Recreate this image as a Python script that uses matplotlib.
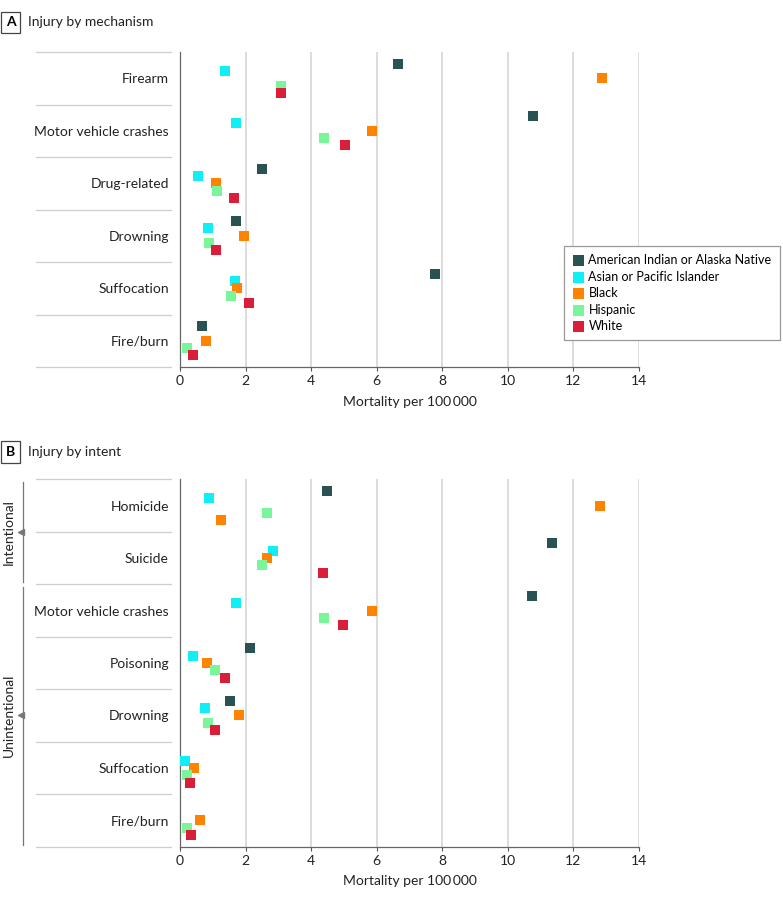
import numpy as np
import matplotlib
matplotlib.use("Agg")
import matplotlib.pyplot as plt
from matplotlib.transforms import blended_transform_factory

plt.rcParams['font.family'] = ['Lato', 'DejaVu Sans']

races = ["American Indian or Alaska Native", "Asian or Pacific Islander", "Black", "Hispanic", "White"]
race_colors = ["#285352", "#12EEF5", "#FF8200", "#7AF599", "#DA1E3A"]

# panel A: injury by mechanism
mech_cats = ["Firearm", "Motor vehicle crashes", "Drug-related", "Drowning", "Suffocation", "Fire/burn"]
mech_aian = [6.65, 10.77, 2.49, 1.70, 7.78, 0.66]
mech_api = [1.37, 1.70, 0.56, 0.86, 1.68, np.nan]
mech_black = [12.88, 5.87, 1.10, 1.94, 1.74, 0.78]
mech_hisp = [3.07, 4.40, 1.12, 0.89, 1.56, 0.22]
mech_white = [3.09, 5.02, 1.65, 1.11, 2.09, 0.39]

# panel B: injury by intent
intent_cats = ["Homicide", "Suicide", "Motor vehicle crashes", "Poisoning", "Drowning", "Suffocation", "Fire/burn"]
intent_aian = [4.49, 11.36, 10.73, 2.15, 1.52, np.nan, np.nan]
intent_api = [0.87, 2.85, 1.70, 0.40, 0.77, 0.16, np.nan]
intent_black = [12.80, 2.65, 5.86, 0.83, 1.81, 0.44, 0.62]
intent_hisp = [2.64, 2.50, 4.38, 1.06, 0.86, 0.22, 0.20]
intent_white = [1.25, 4.37, 4.98, 1.38, 1.06, 0.30, 0.34]
intent_groups = [("Intentional", 0, 1), ("Unintentional", 2, 6)]

# the source figure shows the White homicide marker in orange
recolor = {("Homicide", "White"): "Black"}

xticks = [0, 2, 4, 6, 8, 10, 12, 14]
W, H = 783, 902
FS = 10

fig = plt.figure(figsize=(W / 100, H / 100), dpi=100)


def panel(rect, cats, series, letter, title, title_y):
    ax = fig.add_axes(rect)
    n = len(cats)
    for i, (name, vals) in enumerate(zip(races, series)):
        ys = np.arange(n) + (i - 2) * 0.14
        cols = []
        for c in cats:
            r = recolor.get((c, name), name)
            cols.append(race_colors[races.index(r)])
        ax.scatter(vals, ys, marker='s', s=52, c=cols, edgecolors='none', zorder=3, label=name)
    ax.set_xlim(0, 14)
    ax.set_ylim(n - 0.5, -0.5)
    ax.set_xticks(xticks)
    ax.set_yticks(range(n))
    ax.set_yticklabels(cats, fontsize=FS, color='#222222')
    ax.tick_params(axis='y', length=0, pad=8)
    ax.tick_params(axis='x', length=3, width=0.8, color='#555555', labelsize=FS, pad=3, labelcolor='#222222')
    for s in ['top', 'right']:
        ax.spines[s].set_visible(False)
    for s in ['left', 'bottom']:
        ax.spines[s].set_color('#666666')
        ax.spines[s].set_linewidth(0.9)
    for v in xticks[1:]:
        ax.axvline(v, color='#d6d6d6', lw=1.2, zorder=1)
    ax.set_xlabel("Mortality per 100\u2009000", fontsize=FS, color='#222222', labelpad=6)
    # separators left of the axis
    tr = blended_transform_factory(fig.transFigure, ax.transData)
    for k in range(n + 1):
        ax.plot([36 / W, 171 / W], [k - 0.5, k - 0.5], color='#cfcfcf', lw=0.9,
                transform=tr, clip_on=False)
    fig.text(10.5 / W, 1 - title_y / H, letter, fontsize=10, fontweight='bold', ha='center', va='center',
             bbox=dict(boxstyle='square,pad=0.35', fc='white', ec='#444444', lw=0.9))
    fig.text(28 / W, 1 - title_y / H, title, fontsize=FS, ha='left', va='center', color='#222222')
    return ax


axA = panel([180 / W, 1 - 367 / H, 459 / W, 315 / H], mech_cats,
            [mech_aian, mech_api, mech_black, mech_hisp, mech_white],
            "A", "Injury by mechanism", 22.5)
leg = axA.legend(loc='upper left', bbox_to_anchor=(564 / W, 1 - 246 / H), bbox_transform=fig.transFigure,
                 borderaxespad=0, fontsize=9, frameon=True, fancybox=False, edgecolor='#999999',
                 framealpha=1, handletextpad=0.3, labelspacing=0.36, borderpad=0.65, handlelength=1.0,
                 markerscale=1.1, scatterpoints=1)
leg.get_frame().set_linewidth(0.9)

axB = panel([180 / W, 1 - 846.7 / H, 459 / W, 367.4 / H], intent_cats,
            [intent_aian, intent_api, intent_black, intent_hisp, intent_white],
            "B", "Injury by intent", 452)

trB = blended_transform_factory(fig.transFigure, axB.transData)
for name, a, b in intent_groups:
    axB.plot([23.3 / W, 23.3 / W], [a - 0.44, b + 0.46], color='#777777', lw=0.9, transform=trB, clip_on=False)
    mid = (a + b) / 2
    axB.plot([20.5 / W], [mid], marker='<', ms=4.5, color='#777777', transform=trB, clip_on=False)
    axB.text(9 / W, mid, name, rotation=90, ha='center', va='center', fontsize=FS,
             color='#222222', transform=trB)

fig.savefig("out.png", dpi=100)
